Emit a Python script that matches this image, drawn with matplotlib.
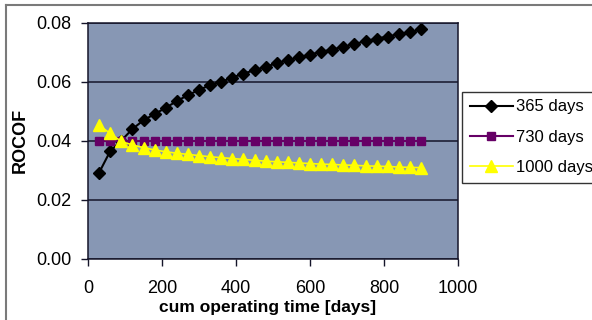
import matplotlib
matplotlib.use("Agg")
import matplotlib.pyplot as plt
from matplotlib.lines import Line2D

plt.rcParams['font.family'] = ['Liberation Sans', 'DejaVu Sans']

# cumulative operating time [days]
days = [30, 60, 90, 120, 150, 180, 210, 240, 270, 300,
        330, 360, 390, 420, 450, 480, 510, 540, 570, 600,
        630, 660, 690, 720, 750, 780, 810, 840, 870, 900]

rocof_365 = [0.0292, 0.0365, 0.0401, 0.0440, 0.0470, 0.0491, 0.0512, 0.0535, 0.0555, 0.0573,
             0.0589, 0.0600, 0.0615, 0.0628, 0.0640, 0.0651, 0.0664, 0.0674, 0.0683, 0.0693,
             0.0702, 0.0710, 0.0719, 0.0729, 0.0738, 0.0747, 0.0754, 0.0762, 0.0769, 0.0778]

rocof_730 = [0.0400] * 30

rocof_1000 = [0.0453, 0.0425, 0.0398, 0.0386, 0.0377, 0.0369, 0.0363, 0.0358, 0.0354, 0.0350,
              0.0346, 0.0343, 0.0340, 0.0337, 0.0334, 0.0331, 0.0329, 0.0327, 0.0325, 0.0323,
              0.0321, 0.0320, 0.0318, 0.0317, 0.0315, 0.0314, 0.0313, 0.0311, 0.0310, 0.0309]

series_labels = ["365 days", "730 days", "1000 days"]
x_ticks = [0, 200, 400, 600, 800, 1000]
y_ticks = [0.00, 0.02, 0.04, 0.06, 0.08]

fig = plt.figure(figsize=(5.92, 3.2), dpi=100)
fig.patch.set_facecolor("white")
ax = fig.add_axes([88 / 592, 1 - 258.7 / 320, 370 / 592, (258.7 - 23) / 320])
ax.set_facecolor("#8797b4")

ax.plot(days, rocof_365, color="black", lw=1.5, marker="D", ms=6.4,
        mfc="black", mec="black", label=series_labels[0])
ax.plot(days, rocof_730, color="#660066", lw=1.5, marker="s", ms=6.0,
        mfc="#660066", mec="#660066", label=series_labels[1])
ax.plot(days, rocof_1000, color="#ffff00", lw=1.2, marker="^", ms=8.0,
        mfc="#ffff00", mec="#ffff00", label=series_labels[2])

ax.set_xlim(0, 1000)
ax.set_ylim(0, 0.08)
ax.set_xticks(x_ticks)
ax.set_yticks(y_ticks)
ax.set_yticklabels([f"{v:.2f}" for v in y_ticks])
ax.grid(axis="y", color="#15152a", lw=1.1)
ax.set_axisbelow(True)
for s in ax.spines.values():
    s.set_color("#15152a")
    s.set_linewidth(1.1)

ax.tick_params(axis="both", labelsize=13, colors="black", direction="out",
               width=1.0, color="#15152a")
ax.tick_params(axis="y", length=5, pad=7)
ax.tick_params(axis="x", length=5, pad=10)

ax.set_xlabel("cum operating time [days]", fontsize=12.5, fontweight="bold")
ax.xaxis.set_label_coords((267.5 - 88) / 370, -(300 - 258.7) / (258.7 - 23))
ax.set_ylabel("ROCOF", fontsize=13, fontweight="bold")
ax.yaxis.set_label_coords(-(88 - 29) / 370, 0.5)

leg = ax.legend(loc="upper left", bbox_to_anchor=(462 / 592, 1 - 92 / 320),
                bbox_transform=fig.transFigure, fontsize=12, frameon=True,
                fancybox=False, shadow=False, borderaxespad=0,
                handlelength=2.6, handletextpad=0.2, labelspacing=0.92,
                borderpad=0.45, markerscale=1.0)
leg.get_frame().set_edgecolor("black")
leg.get_frame().set_linewidth(1.0)
leg.get_frame().set_facecolor("white")

# chart area border (top and left edges)
fig.add_artist(Line2D([6 / 592, 1.0], [1 - 5 / 320, 1 - 5 / 320],
                      transform=fig.transFigure, color="#7a7a7a", lw=1.5))
fig.add_artist(Line2D([6 / 592, 6 / 592], [0.0, 1 - 5 / 320],
                      transform=fig.transFigure, color="#7a7a7a", lw=1.5))

fig.savefig("out.png", dpi=100)
